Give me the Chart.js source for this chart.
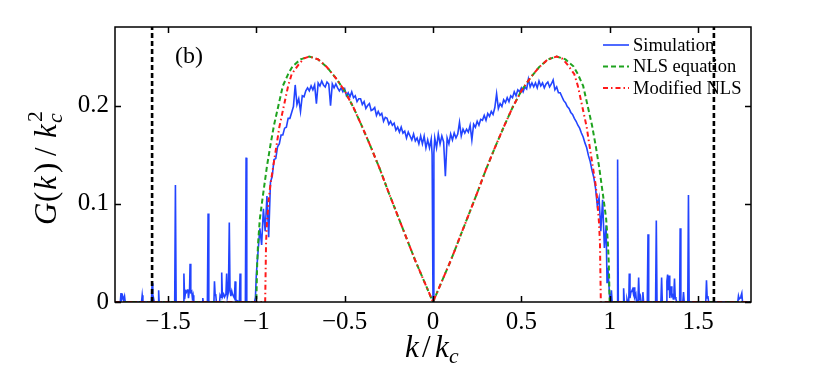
<!DOCTYPE html>
<html><head><meta charset="utf-8">
<script src="https://cdn.jsdelivr.net/npm/chart.js@4/dist/chart.umd.min.js"></script>
<style>html,body{margin:0;padding:0;background:#fff;}#wrap{width:830px;height:368px;position:relative;}</style>
</head><body><div id="wrap"><canvas id="c" width="830" height="368"></canvas></div>
<script>
// ---------------- data ----------------
const legendLabels = ['Simulation', 'NLS equation', 'Modified NLS'];
const panelLabel = '(b)';
const xTickValues = [-1.5, -1, -0.5, 0, 0.5, 1, 1.5];
const yTickValues = [0, 0.1, 0.2];
const xRange = [-1.8, 1.8];
const yRange = [0, 0.28];
const cutoffK = [-1.59, 1.59];

// Simulation: sparse spikes for k < -1
const simLeftWing = [[-1.800,0],[-1.770,0],[-1.766,0.009],[-1.762,0.003],[-1.757,0.006],[-1.752,0.002],[-1.746,0.006],[-1.742,0],[-1.650,0],[-1.646,0.007],[-1.642,0],[-1.594,0],[-1.590,0.019],[-1.586,0.002],[-1.582,0.004],[-1.578,0],[-1.556,0],[-1.553,0.012],[-1.550,0],[-1.462,0],[-1.458,0.119],[-1.454,0],[-1.413,0],[-1.410,0.029],[-1.406,0.003],[-1.400,0.011],[-1.396,0.010],[-1.392,0.012],[-1.388,0.013],[-1.384,0.004],[-1.378,0.013],[-1.375,0.039],[-1.371,0.010],[-1.366,0.011],[-1.362,0.004],[-1.358,0.007],[-1.354,0],[-1.306,0],[-1.303,0.004],[-1.300,0],[-1.277,0],[-1.273,0.090],[-1.269,0],[-1.240,0],[-1.237,0.021],[-1.233,0.007],[-1.230,0.008],[-1.226,0],[-1.208,0],[-1.205,0.007],[-1.200,0.005],[-1.196,0.030],[-1.192,0.005],[-1.185,0.008],[-1.180,0.005],[-1.172,0.008],[-1.168,0.029],[-1.164,0.005],[-1.158,0.010],[-1.153,0.081],[-1.149,0.012],[-1.144,0.006],[-1.139,0.011],[-1.135,0.008],[-1.124,0.004],[-1.120,0.021],[-1.116,0.002],[-1.096,0],[-1.092,0.029],[-1.088,0],[-1.062,0],[-1.058,0.147],[-1.054,0],[-1.010,0],[-1.005,0.005]];

// Simulation: unstable band |k| < 1
const simCore = [[-1.00,0.028],[-0.99,0.052],[-0.98,0.075],[-0.97,0.058],[-0.96,0.095],[-0.95,0.072],[-0.94,0.108],[-0.93,0.066],[-0.92,0.122],[-0.91,0.128],[-0.90,0.145],[-0.89,0.146],[-0.88,0.158],[-0.87,0.161],[-0.86,0.170],[-0.85,0.170],[-0.84,0.177],[-0.83,0.178],[-0.82,0.187],[-0.81,0.187],[-0.80,0.193],[-0.79,0.199],[-0.78,0.221],[-0.77,0.201],[-0.76,0.207],[-0.75,0.194],[-0.74,0.210],[-0.73,0.209],[-0.72,0.215],[-0.71,0.218],[-0.70,0.215],[-0.69,0.220],[-0.68,0.216],[-0.67,0.221],[-0.66,0.202],[-0.65,0.223],[-0.64,0.220],[-0.63,0.225],[-0.62,0.221],[-0.61,0.219],[-0.60,0.224],[-0.59,0.222],[-0.58,0.200],[-0.57,0.222],[-0.56,0.218],[-0.55,0.222],[-0.54,0.218],[-0.53,0.215],[-0.52,0.218],[-0.51,0.214],[-0.50,0.217],[-0.49,0.210],[-0.48,0.213],[-0.47,0.209],[-0.46,0.214],[-0.45,0.208],[-0.44,0.210],[-0.43,0.204],[-0.42,0.207],[-0.41,0.207],[-0.40,0.201],[-0.39,0.204],[-0.38,0.197],[-0.37,0.200],[-0.36,0.202],[-0.35,0.195],[-0.34,0.196],[-0.33,0.198],[-0.32,0.190],[-0.31,0.194],[-0.30,0.190],[-0.29,0.192],[-0.28,0.184],[-0.27,0.188],[-0.26,0.187],[-0.25,0.181],[-0.24,0.184],[-0.23,0.180],[-0.22,0.182],[-0.21,0.175],[-0.20,0.178],[-0.19,0.173],[-0.18,0.178],[-0.17,0.172],[-0.16,0.174],[-0.15,0.167],[-0.14,0.173],[-0.13,0.169],[-0.12,0.165],[-0.11,0.171],[-0.10,0.164],[-0.09,0.167],[-0.08,0.161],[-0.07,0.169],[-0.06,0.161],[-0.05,0.169],[-0.04,0.157],[-0.03,0.165],[-0.02,0.157],[-0.01,0.166],[-0.005,0.150],[0,0],[0.005,0.152],[0.01,0.167],[0.02,0.157],[0.03,0.171],[0.04,0.161],[0.05,0.169],[0.06,0.163],[0.07,0.128],[0.08,0.167],[0.09,0.161],[0.10,0.171],[0.11,0.165],[0.12,0.172],[0.13,0.167],[0.14,0.171],[0.15,0.183],[0.16,0.169],[0.17,0.176],[0.18,0.172],[0.19,0.176],[0.20,0.173],[0.21,0.180],[0.22,0.165],[0.23,0.181],[0.24,0.178],[0.25,0.184],[0.26,0.180],[0.27,0.186],[0.28,0.185],[0.29,0.190],[0.30,0.185],[0.31,0.192],[0.32,0.189],[0.33,0.194],[0.34,0.191],[0.35,0.198],[0.36,0.212],[0.37,0.197],[0.38,0.202],[0.39,0.199],[0.40,0.206],[0.41,0.203],[0.42,0.208],[0.43,0.204],[0.44,0.210],[0.45,0.208],[0.46,0.214],[0.47,0.210],[0.48,0.216],[0.49,0.214],[0.50,0.218],[0.51,0.214],[0.52,0.219],[0.53,0.217],[0.54,0.227],[0.55,0.219],[0.56,0.223],[0.57,0.219],[0.58,0.223],[0.59,0.218],[0.60,0.225],[0.61,0.220],[0.62,0.223],[0.63,0.218],[0.64,0.222],[0.65,0.224],[0.66,0.219],[0.67,0.222],[0.68,0.226],[0.69,0.216],[0.70,0.219],[0.71,0.213],[0.72,0.213],[0.73,0.209],[0.74,0.205],[0.75,0.203],[0.76,0.199],[0.77,0.197],[0.78,0.193],[0.79,0.191],[0.80,0.187],[0.81,0.184],[0.82,0.180],[0.83,0.177],[0.84,0.172],[0.85,0.168],[0.86,0.162],[0.87,0.157],[0.88,0.149],[0.89,0.143],[0.90,0.134],[0.91,0.127],[0.92,0.116],[0.93,0.098],[0.94,0.106],[0.95,0.072],[0.96,0.104],[0.97,0.055],[0.98,0.078],[0.985,0.020],[0.99,0.035],[1.00,0.005]];

// Simulation: sparse spikes for k > 1
const simRightWing = [[1.005,0],[1.010,0.012],[1.014,0],[1.042,0],[1.045,0.145],[1.049,0],[1.076,0],[1.079,0.014],[1.083,0],[1.095,0],[1.098,0.003],[1.102,0],[1.108,0],[1.111,0.029],[1.115,0.004],[1.120,0.010],[1.125,0.011],[1.130,0.013],[1.134,0.009],[1.138,0.015],[1.142,0.005],[1.148,0.008],[1.152,0],[1.160,0],[1.164,0.025],[1.168,0.003],[1.174,0.006],[1.178,0],[1.185,0],[1.188,0.010],[1.192,0],[1.213,0],[1.217,0.069],[1.221,0],[1.260,0],[1.264,0.083],[1.268,0],[1.290,0],[1.294,0.025],[1.298,0],[1.320,0],[1.324,0.021],[1.328,0.028],[1.332,0.012],[1.336,0.027],[1.340,0.004],[1.344,0.010],[1.348,0.016],[1.352,0.006],[1.356,0.007],[1.360,0.003],[1.364,0.012],[1.367,0.024],[1.371,0.005],[1.375,0.003],[1.380,0],[1.396,0],[1.399,0.075],[1.403,0],[1.414,0],[1.418,0.010],[1.422,0],[1.442,0],[1.446,0.109],[1.450,0],[1.544,0],[1.548,0.022],[1.552,0.004],[1.556,0.006],[1.560,0],[1.725,0],[1.729,0.006],[1.733,0.003],[1.738,0.004],[1.743,0.006],[1.748,0.009],[1.752,0],[1.800,0]];

// NLS equation (green dashed)
const nlsCurve = [[-1.8,0],[-1.0,0],[-0.995,0.040],[-0.99,0.060],[-0.98,0.085],[-0.966,0.104],[-0.94,0.138],[-0.92,0.160],[-0.90,0.180],[-0.88,0.196],[-0.85,0.220],[-0.82,0.232],[-0.795,0.240],[-0.75,0.247],[-0.70,0.250],[-0.65,0.247],[-0.60,0.239],[-0.55,0.228],[-0.50,0.215],[-0.45,0.198],[-0.40,0.178],[-0.35,0.157],[-0.30,0.135],[-0.25,0.111],[-0.20,0.088],[-0.15,0.065],[-0.10,0.042],[-0.05,0.021],[0,0],[0.05,0.021],[0.10,0.042],[0.15,0.065],[0.20,0.088],[0.25,0.111],[0.30,0.135],[0.35,0.157],[0.40,0.178],[0.45,0.198],[0.50,0.215],[0.55,0.228],[0.60,0.239],[0.65,0.247],[0.70,0.250],[0.75,0.247],[0.795,0.240],[0.82,0.232],[0.85,0.220],[0.88,0.196],[0.90,0.180],[0.92,0.160],[0.94,0.138],[0.966,0.104],[0.98,0.085],[0.99,0.060],[0.995,0.040],[1.0,0],[1.8,0]];

// Modified NLS (red dash-dot)
const modifiedNlsCurve = [[-1.8,0],[-0.95,0],[-0.945,0.060],[-0.94,0.080],[-0.93,0.104],[-0.92,0.120],[-0.90,0.143],[-0.88,0.166],[-0.87,0.178],[-0.845,0.199],[-0.82,0.220],[-0.80,0.232],[-0.76,0.242],[-0.73,0.248],[-0.70,0.250],[-0.65,0.247],[-0.60,0.239],[-0.55,0.228],[-0.50,0.215],[-0.45,0.198],[-0.40,0.178],[-0.35,0.157],[-0.30,0.135],[-0.25,0.111],[-0.20,0.088],[-0.15,0.065],[-0.10,0.042],[-0.05,0.021],[0,0],[0.05,0.021],[0.10,0.042],[0.15,0.065],[0.20,0.088],[0.25,0.111],[0.30,0.135],[0.35,0.157],[0.40,0.178],[0.45,0.198],[0.50,0.215],[0.55,0.228],[0.60,0.239],[0.65,0.247],[0.70,0.250],[0.73,0.248],[0.76,0.242],[0.80,0.232],[0.82,0.220],[0.845,0.199],[0.87,0.178],[0.88,0.166],[0.90,0.143],[0.92,0.120],[0.93,0.104],[0.94,0.080],[0.945,0.060],[0.95,0],[1.8,0]];

// ---------------- styling / rendering ----------------
const SERIF = '"Liberation Serif","Times New Roman",serif';
const BLUE = '#2244ff', GREEN = '#1fa31f', RED = '#ff1a1a';
const toPts = arr => arr.map(([x, y]) => ({x, y}));
const simulationPoints = [...simLeftWing, ...simCore, ...simRightWing];
const fmt = v => String(Math.round(v * 100) / 100).replace('-', '\u2212');

const datasets = [
  {label: legendLabels[0], data: toPts(simulationPoints), borderColor: BLUE, borderWidth: 1.6, order: 3},
  {label: legendLabels[1], data: toPts(nlsCurve), borderColor: GREEN, borderWidth: 2, borderDash: [5, 3], order: 2},
  {label: legendLabels[2], data: toPts(modifiedNlsCurve), borderColor: RED, borderWidth: 2, borderDash: [5, 3, 1.5, 3], order: 1}
].concat(cutoffK.map(k => ({
  label: '', data: [{x: k, y: yRange[0]}, {x: k, y: yRange[1]}],
  borderColor: '#000', borderWidth: 2.6, borderDash: [5, 3], order: 0
})));

function drawPieces(ctx, pieces, size) {
  for (const p of pieces) {
    const s = p.scale ? size * p.scale : size;
    ctx.font = (p.it ? 'italic ' : '') + s + 'px ' + SERIF;
    ctx.fillText(p.t, p.dx, p.dy || 0);
  }
}

const decor = {
  id: 'decor',
  afterDraw(chart) {
    const {ctx, chartArea: a, scales: {x, y}} = chart;
    ctx.save();
    ctx.strokeStyle = '#000';
    ctx.lineWidth = 1.5;
    ctx.setLineDash([]);
    ctx.strokeRect(a.left, a.top, a.right - a.left, a.bottom - a.top);
    const tl = 6;
    ctx.beginPath();
    for (const v of xTickValues) {
      const px = Math.round(x.getPixelForValue(v)) + 0.5;
      ctx.moveTo(px, a.bottom); ctx.lineTo(px, a.bottom - tl);
      ctx.moveTo(px, a.top); ctx.lineTo(px, a.top + tl);
    }
    for (const v of yTickValues) {
      const py = Math.round(y.getPixelForValue(v)) + 0.5;
      ctx.moveTo(a.left, py); ctx.lineTo(a.left + tl, py);
      ctx.moveTo(a.right, py); ctx.lineTo(a.right - tl, py);
    }
    ctx.stroke();

    // legend
    ctx.textBaseline = 'middle';
    ctx.textAlign = 'left';
    ctx.fillStyle = '#000';
    ctx.font = '18.5px ' + SERIF;
    for (let i = 0; i < legendLabels.length; i++) {
      const ds = chart.data.datasets[i];
      const ly = 45 + i * 21.5;
      ctx.strokeStyle = ds.borderColor;
      ctx.lineWidth = ds.borderWidth;
      ctx.setLineDash(ds.borderDash || []);
      ctx.beginPath(); ctx.moveTo(603, ly); ctx.lineTo(629, ly); ctx.stroke();
      ctx.fillText(ds.label, 633, ly + 1);
    }
    ctx.setLineDash([]);

    // panel label
    ctx.textBaseline = 'alphabetic';
    ctx.font = '24px ' + SERIF;
    ctx.fillText(panelLabel, 175, 63);

    // x-axis title  k/k_c
    ctx.save();
    ctx.translate(405, 357);
    drawPieces(ctx, [
      {t: 'k', it: true, dx: 0}, {t: '/', dx: 17}, {t: 'k', it: true, dx: 30},
      {t: 'c', it: true, dx: 44, dy: 6, scale: 0.7}
    ], 31);
    ctx.restore();

    // y-axis title  G(k)/k_c^2
    ctx.save();
    ctx.translate(56, 225);
    ctx.rotate(-Math.PI / 2);
    drawPieces(ctx, [
      {t: 'G', it: true, dx: 0}, {t: '(', dx: 23}, {t: 'k', it: true, dx: 35}, {t: ')', dx: 52},
      {t: '/', dx: 69}, {t: 'k', it: true, dx: 87},
      {t: 'c', it: true, dx: 102, dy: 6, scale: 0.7}, {t: '2', dx: 103, dy: -14, scale: 0.7}
    ], 31);
    ctx.restore();
    ctx.restore();
  }
};

new Chart(document.getElementById('c'), {
  type: 'line',
  data: {datasets},
  options: {
    responsive: false,
    animation: false,
    layout: {padding: {top: 27, right: 79, left: 0, bottom: 0}},
    elements: {point: {radius: 0, hoverRadius: 0}, line: {tension: 0, borderCapStyle: 'butt', borderJoinStyle: 'miter', fill: false}},
    plugins: {legend: {display: false}, tooltip: {enabled: false}},
    scales: {
      x: {
        type: 'linear', min: xRange[0], max: xRange[1],
        grid: {display: false, drawTicks: false}, border: {display: false},
        ticks: {color: '#000', font: {family: SERIF, size: 25}, padding: 5, maxRotation: 0, autoSkip: false, callback: v => fmt(v)},
        afterBuildTicks: s => { s.ticks = xTickValues.map(v => ({value: v})); },
        afterFit: s => { s.height = 66; }
      },
      y: {
        type: 'linear', min: yRange[0], max: yRange[1],
        grid: {display: false, drawTicks: false}, border: {display: false},
        ticks: {color: '#000', font: {family: SERIF, size: 25}, padding: 6, autoSkip: false, callback: v => fmt(v)},
        afterBuildTicks: s => { s.ticks = yTickValues.map(v => ({value: v})); },
        afterFit: s => { s.width = 115; }
      }
    }
  },
  plugins: [decor]
});
</script></body></html>
